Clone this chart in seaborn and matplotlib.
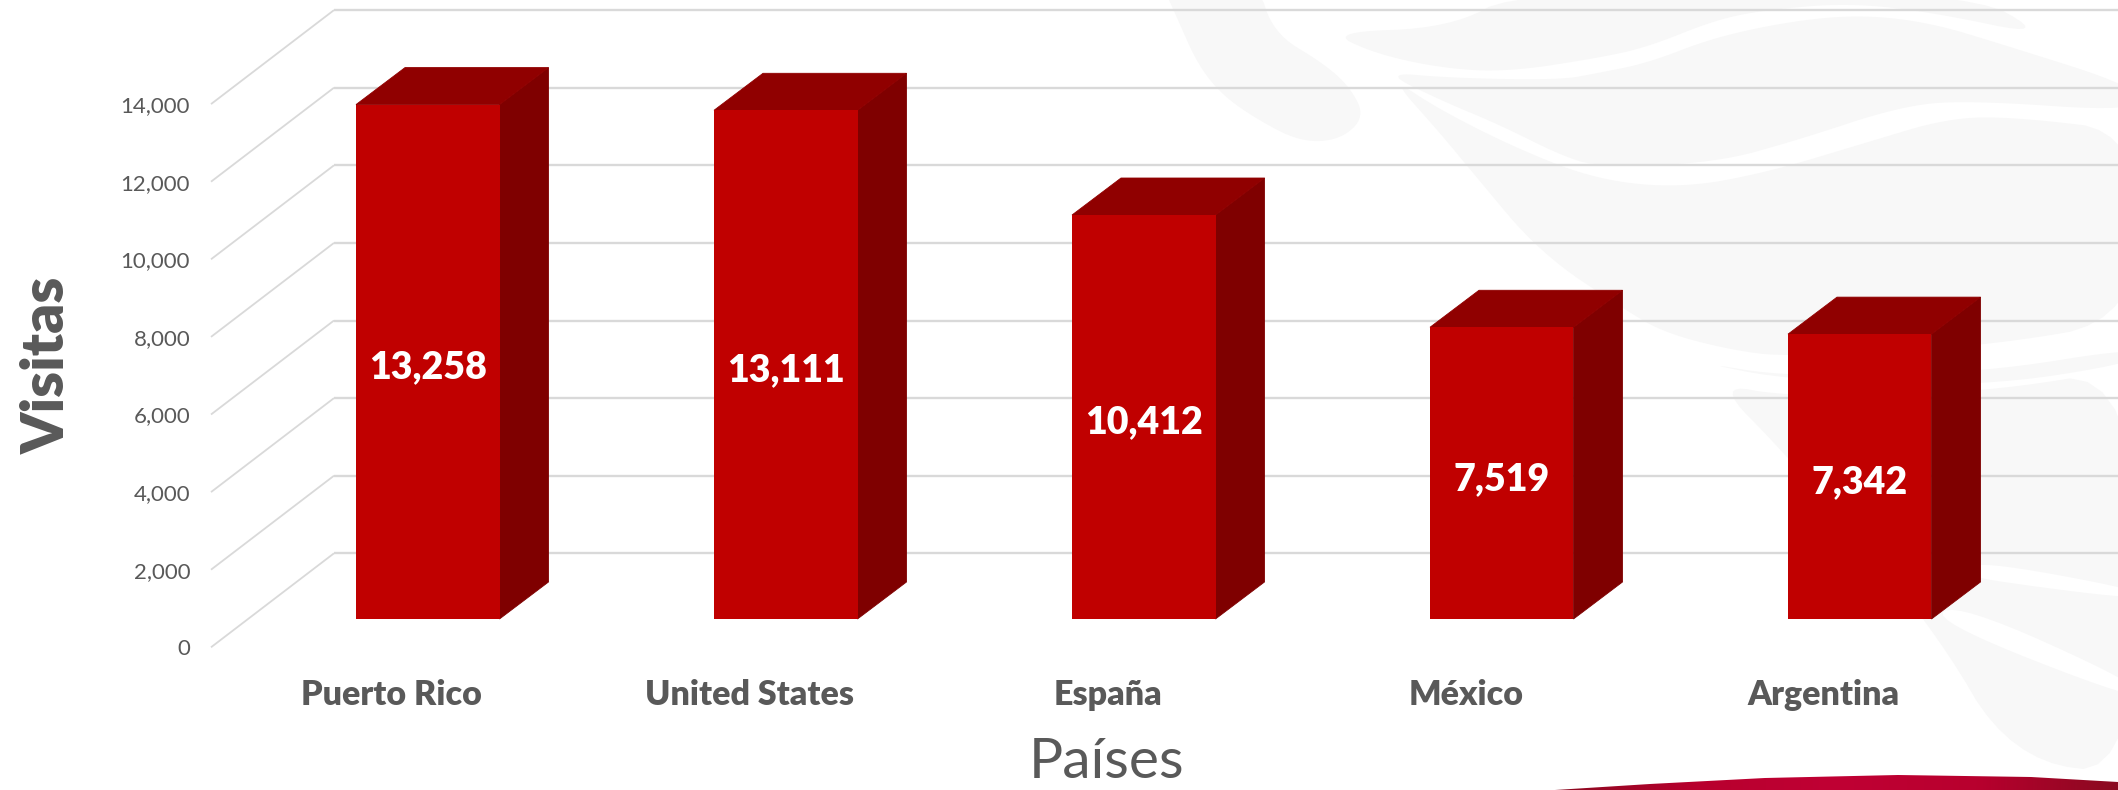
import matplotlib
matplotlib.use("Agg")
import matplotlib.pyplot as plt
import numpy as np
import seaborn as sns
from matplotlib.colors import LinearSegmentedColormap
from matplotlib.patches import Polygon

paises = ["Puerto Rico", "United States", "España", "México", "Argentina"]
visitas = [13258, 13111, 10412, 7519, 7342]
y_ticks = [0, 2000, 4000, 6000, 8000, 10000, 12000, 14000]

sns.set_style("white")
plt.rcParams["font.family"] = ["Lato", "DejaVu Sans"]

W, H = 2118, 790
GRAY = "#595959"
GRID = "#d9d9d9"
WATERMARK = "#f8f8f8"

# layout in pixels of the picture
left, floor = 211, 647.3       # front edge of the floor
px_per_unit = 77.6 / 2000
px_per_cat = 358
bar_base = 619                 # bars stand a bit behind the floor edge
bar_center = 427.75
label_center = 391.7
floor_dx, floor_dy = 123, 94   # depth of the floor
bar_dx, bar_dy = 49, 37        # depth of a bar


def smooth(pts, rounds=3):
    # corner cutting so the watermark edges read as curves
    pts = np.array(pts, dtype=float)
    for _ in range(rounds):
        nxt = np.roll(pts, -1, axis=0)
        pts = np.column_stack([0.75 * pts + 0.25 * nxt, 0.25 * pts + 0.75 * nxt]).reshape(-1, 2)
    return pts


fig = plt.figure(figsize=(W / 100, H / 100), dpi=100)

# background artwork, pale watermark and red band at the bottom
bg = fig.add_axes([0, 0, 1, 1], zorder=0)
shapes = [
    ([(1160, -20), (1178, 20), (1197, 63), (1220, 93), (1253, 117), (1300, 142), (1340, 140),
      (1365, 117), (1350, 87), (1323, 63), (1273, 33), (1257, -20)], WATERMARK),
    ([(1330, 32), (1450, 28), (1520, -10), (1965, -10), (2050, 37), (1931, 12), (1848, 3), (1765, 10),
      (1715, 20), (1648, 47), (1598, 58), (1507, 72), (1440, 68), (1373, 53)], WATERMARK),
    ([(1383, 72), (1450, 78), (1560, 80), (1598, 73), (1648, 63), (1715, 37), (1798, 20), (1865, 15),
      (1931, 23), (1998, 43), (2140, 88), (2140, 112), (1965, 100), (1898, 107), (1798, 140),
      (1715, 163), (1598, 167), (1560, 155), (1500, 125), (1440, 100)], WATERMARK),
    ([(1390, 77), (1440, 110), (1520, 150), (1598, 180), (1681, 188), (1765, 173), (1865, 143),
      (1948, 118), (2015, 117), (2140, 132), (2140, 320), (1980, 347), (1788, 357), (1731, 350),
      (1665, 333), (1625, 310), (1540, 253), (1473, 173), (1440, 133)], WATERMARK),
    ([(1698, 362), (1788, 377), (1980, 373), (2140, 347), (2140, 362), (1980, 387), (1788, 380)], WATERMARK),
    ([(1715, 383), (1788, 397), (1980, 393), (2140, 367), (2140, 776), (2011, 760), (1931, 623), (1785, 453)], WATERMARK),
    ([(1975, 560), (2140, 590), (2140, 600), (1985, 580), (1975, 575)], "white"),
    ([(1931, 620), (1958, 603), (2140, 685), (2140, 702)], "white"),
]
for pts, col in shapes:
    bg.add_patch(Polygon(smooth(pts), closed=True, facecolor=col, edgecolor="none"))

band = Polygon([(1555, 790), (1650, 784), (1765, 778), (1898, 775), (2031, 777), (2118, 782), (2118, 790)],
               closed=True, facecolor="none", edgecolor="none")
bg.add_patch(band)
band_cmap = LinearSegmentedColormap.from_list("band", ["#8a0a20", "#b8002e", "#c00034", "#b8002e", "#8a0a20"])
im = bg.imshow(np.linspace(0, 1, 256).reshape(1, -1), extent=(1555, 2118, 790, 770), cmap=band_cmap, aspect="auto")
im.set_clip_path(band)
bg.set_xlim(0, W)
bg.set_ylim(H, 0)
bg.axis("off")

# back wall: grid lines, value ticks and country labels
pos = [left / W, (H - floor) / H, (W - left) / W, floor / H]
wall = fig.add_axes(pos, zorder=1)
wall.patch.set_visible(False)
wall.set_xlim((left - label_center) / px_per_cat, (W - label_center) / px_per_cat)
wall.set_ylim(0, floor / px_per_unit)
x0, x1 = wall.get_xlim()
depth_x = floor_dx / px_per_cat
depth_y = floor_dy / px_per_unit
for t in y_ticks:
    wall.plot([x0, x0 + depth_x], [t, t + depth_y], color=GRID, lw=1.3, solid_capstyle="butt", clip_on=False)
    wall.plot([x0 + depth_x, x1], [t + depth_y, t + depth_y], color=GRID, lw=1.7, solid_capstyle="butt", clip_on=False)
wall.set_yticks(y_ticks, [f"{t:,}" for t in y_ticks])
wall.set_xticks(range(len(paises)), paises)
wall.tick_params(axis="y", length=0, pad=15, labelsize=16, labelcolor=GRAY)
wall.tick_params(axis="x", length=0, pad=22.5, labelsize=24.5, labelcolor=GRAY)
for lab in wall.get_xticklabels():
    lab.set_fontweight("heavy")
sns.despine(ax=wall, left=True, bottom=True)
wall.set_xlabel("Países", fontsize=41, color=GRAY, va="center")
wall.xaxis.set_label_coords((1107 - left) / (W - left), (floor - 762) / floor)
wall.set_ylabel("Visitas", fontsize=42, fontweight="heavy", color=GRAY, va="center")
wall.yaxis.set_label_coords((47 - left) / (W - left), (floor - 365) / floor)

# bars with their own scale, zero sits on bar_base
ax = fig.add_axes(pos, zorder=2)
ax.patch.set_visible(False)
sns.barplot(x=paises, y=visitas, ax=ax, color="#C00000", saturation=1, width=143.5 / px_per_cat,
            linewidth=0, zorder=3)
ax.set_xlim((left - bar_center) / px_per_cat, (W - bar_center) / px_per_cat)
ax.set_ylim(-(floor - bar_base) / px_per_unit, bar_base / px_per_unit)
ax.axis("off")

dx = bar_dx / px_per_cat
dy = bar_dy / px_per_unit
for p in ax.containers[0]:
    xa, xb, h = p.get_x(), p.get_x() + p.get_width(), p.get_height()
    ax.fill([xb, xb + dx, xb + dx, xb], [0, dy, h + dy, h], color="#7F0000", lw=0.6, zorder=2)
    ax.fill([xa, xa + dx, xb + dx, xb], [h, h + dy, h + dy, h], color="#900000", lw=0.6, zorder=2)
labels = ax.bar_label(ax.containers[0], fmt="{:,.0f}", label_type="center", color="white", fontsize=27,
                      fontweight="heavy")
for lab in labels:
    lab.xyann = (0, -4)

fig.savefig("out.png", dpi=100)
